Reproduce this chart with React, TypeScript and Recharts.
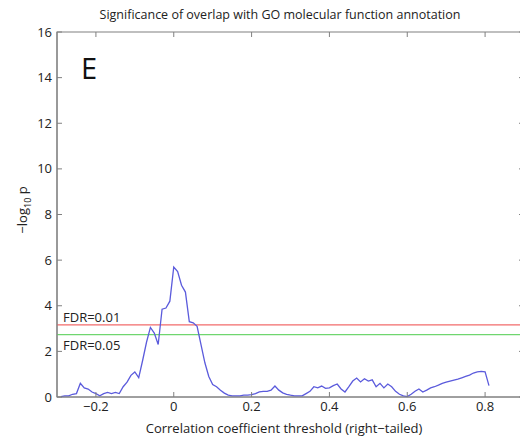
import React from 'react';
import { LineChart, Line, XAxis, YAxis, ReferenceLine, ReferenceArea } from 'recharts';

// correlation threshold (x) and -log10 p (y)
const thresholds = [
  -0.29, -0.28, -0.27, -0.26, -0.25, -0.24, -0.23, -0.22, -0.21, -0.2,
  -0.19, -0.18, -0.17, -0.16, -0.15, -0.14, -0.13, -0.12, -0.11, -0.1,
  -0.09, -0.08, -0.07, -0.06, -0.05, -0.04, -0.03, -0.02, -0.01, 0,
  0.01, 0.02, 0.03, 0.04, 0.05, 0.06, 0.07, 0.08, 0.09, 0.1,
  0.11, 0.12, 0.13, 0.14, 0.15, 0.16, 0.17, 0.18, 0.19, 0.2,
  0.21, 0.22, 0.23, 0.24, 0.25, 0.26, 0.27, 0.28, 0.29, 0.3,
  0.31, 0.32, 0.33, 0.34, 0.35, 0.36, 0.37, 0.38, 0.39, 0.4,
  0.41, 0.42, 0.43, 0.44, 0.45, 0.46, 0.47, 0.48, 0.49, 0.5,
  0.51, 0.52, 0.53, 0.54, 0.55, 0.56, 0.57, 0.58, 0.59, 0.6,
  0.61, 0.62, 0.63, 0.64, 0.65, 0.66, 0.67, 0.68, 0.69, 0.7,
  0.71, 0.72, 0.73, 0.74, 0.75, 0.76, 0.77, 0.78, 0.79, 0.8,
  0.81,
];

const negLogP = [
  0.02, 0.05, 0.05, 0.12, 0.15, 0.6, 0.4, 0.35, 0.22, 0.15,
  0.05, 0.15, 0.2, 0.15, 0.2, 0.15, 0.45, 0.65, 0.95, 1.1,
  0.85, 1.6, 2.4, 3.05, 2.8, 2.3, 3.85, 3.9, 4.2, 5.7,
  5.5, 4.9, 4.6, 3.3, 3.25, 3.1, 2.3, 1.5, 0.9, 0.55,
  0.45, 0.3, 0.17, 0.08, 0.05, 0.05, 0.05, 0.08, 0.08, 0.1,
  0.15, 0.22, 0.25, 0.25, 0.3, 0.48, 0.3, 0.18, 0.12, 0.08,
  0.05, 0.05, 0.05, 0.15, 0.25, 0.45, 0.4, 0.48, 0.38, 0.4,
  0.5, 0.57, 0.35, 0.22, 0.45, 0.7, 0.83, 0.66, 0.8, 0.7,
  0.75, 0.45, 0.6, 0.4, 0.57, 0.45, 0.25, 0.12, 0.05, 0.02,
  0.12, 0.25, 0.35, 0.22, 0.3, 0.4, 0.45, 0.52, 0.6, 0.65,
  0.7, 0.74, 0.78, 0.84, 0.9, 0.96, 1.05, 1.1, 1.12, 1.1,
  0.5,
];

const xTicks = [-0.2, 0, 0.2, 0.4, 0.6, 0.8];
const yTicks = [0, 2, 4, 6, 8, 10, 12, 14, 16];
const xDomain = [-0.3, 0.9];
const yDomain = [0, 16];
const fdrLevels = [3.16, 2.73];
const fdrLabels = ['FDR=0.01', 'FDR=0.05'];

const data = thresholds.map((r, i) => ({ r, p: negLogP[i] }));

const font = '"Open Sans", sans-serif';
const axisGray = '#808080';
const minus = (v: number) => String(v).replace('-', '\u2212');
const noLabel = () => <g />;

// inward top ticks: 5px on a 365px tall plot, in data units
const topTickLen = (5 * (yDomain[1] - yDomain[0])) / 365;

const App = () => {
  return (
    <div style={{ position: 'fixed', left: 0, top: 0, width: 520, height: 440, overflow: 'hidden', background: '#fff', fontFamily: font }}>
      <LineChart width={530} height={440} data={data} margin={{ top: 32, right: 5, bottom: 0, left: 0 }}>
        <XAxis
          xAxisId="x"
          dataKey="r"
          type="number"
          domain={xDomain}
          ticks={xTicks}
          allowDataOverflow
          height={43}
          tickSize={-5}
          tickMargin={10}
          axisLine={{ stroke: axisGray }}
          tickLine={{ stroke: axisGray }}
          tick={{ fill: '#222', fontSize: 13, fontFamily: font }}
          tickFormatter={minus}
        />
        <YAxis
          yAxisId="y"
          type="number"
          domain={yDomain}
          ticks={yTicks}
          width={57}
          tickSize={-5}
          tickMargin={10}
          axisLine={{ stroke: axisGray }}
          tickLine={{ stroke: axisGray }}
          tick={{ fill: '#222', fontSize: 13, fontFamily: font }}
        />
        <YAxis
          yAxisId="yr"
          orientation="right"
          type="number"
          domain={yDomain}
          ticks={yTicks}
          width={1}
          tickSize={-5}
          tick={noLabel}
          axisLine={{ stroke: axisGray }}
          tickLine={{ stroke: axisGray }}
        />
        {/* whole plot box as a frame */}
        <ReferenceArea
          xAxisId="x"
          yAxisId="y"
          x1={xDomain[0]}
          x2={xDomain[1]}
          y1={yDomain[0]}
          y2={yDomain[1]}
          ifOverflow="visible"
          fill="none"
          fillOpacity={0}
          stroke={axisGray}
          strokeWidth={1.2}
        />
        {xTicks.map((t) => (
          <ReferenceLine
            key={t}
            xAxisId="x"
            yAxisId="y"
            ifOverflow="visible"
            segment={[{ x: t, y: yDomain[1] }, { x: t, y: yDomain[1] - topTickLen }]}
            stroke={axisGray}
          />
        ))}
        <ReferenceLine
          xAxisId="x"
          yAxisId="y"
          y={fdrLevels[0]}
          stroke="#f26b6b"
          strokeWidth={1.2}
          label={(props: any) => (
            <text x={props.viewBox.x + 6} y={props.viewBox.y - 3} fontSize={13} fill="#222" fontFamily={font}>
              {fdrLabels[0]}
            </text>
          )}
        />
        <ReferenceLine
          xAxisId="x"
          yAxisId="y"
          y={fdrLevels[1]}
          stroke="#6fd66f"
          strokeWidth={1.2}
          label={(props: any) => (
            <text x={props.viewBox.x + 6} y={props.viewBox.y + 15} fontSize={13} fill="#222" fontFamily={font}>
              {fdrLabels[1]}
            </text>
          )}
        />
        {/* same series on the right frame axis so it gets drawn */}
        <Line
          xAxisId="x"
          yAxisId="yr"
          type="linear"
          dataKey="p"
          stroke="none"
          dot={false}
          activeDot={false}
          isAnimationActive={false}
        />
        <Line
          xAxisId="x"
          yAxisId="y"
          type="linear"
          dataKey="p"
          stroke="#5b5bdc"
          strokeWidth={1.3}
          dot={false}
          isAnimationActive={false}
        />
      </LineChart>
      <svg width={520} height={440} style={{ position: 'absolute', left: 0, top: 0, pointerEvents: 'none' }}>
        <text x={280} y={19} textAnchor="middle" fontSize={12.5} fill="#222" fontFamily={font}>
          Significance of overlap with GO molecular function annotation
        </text>
        <text x={81} y={79} fontSize={29} fill="#111" fontFamily={font}>E</text>
        <text x={284} y={433} textAnchor="middle" fontSize={13} fill="#222" fontFamily={font}>
          Correlation coefficient threshold (right{'\u2212'}tailed)
        </text>
        <text transform="translate(27,210) rotate(-90)" textAnchor="middle" fontSize={13} fill="#222" fontFamily={font}>
          {'\u2212'}log<tspan fontSize={9} dy={4}>10</tspan><tspan dy={-4}> p</tspan>
        </text>
      </svg>
    </div>
  );
};

export default App;
